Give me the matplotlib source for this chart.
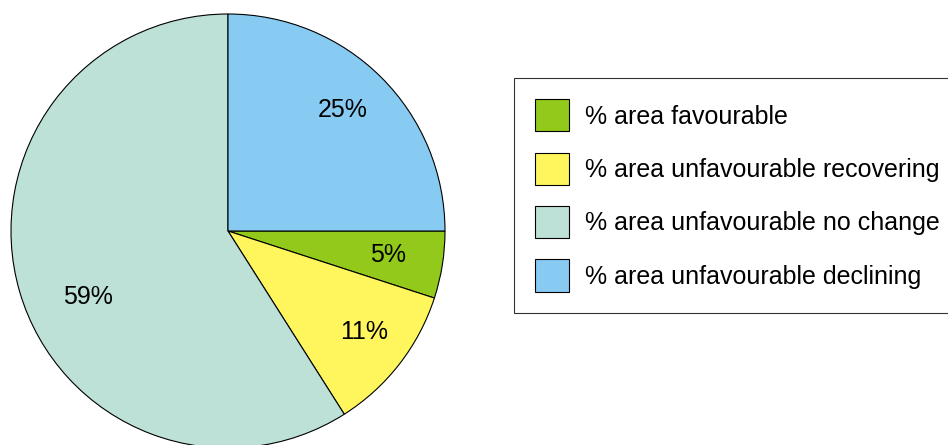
import matplotlib.pyplot as plt

plt.rcParams['font.family'] = ['Liberation Sans', 'DejaVu Sans']

labels = ['% area favourable', '% area unfavourable recovering',
          '% area unfavourable no change', '% area unfavourable declining']
values = [5, 11, 59, 25]
colors = ['#92c91a', '#fff65e', '#bde0d7', '#87cbf3']

# label centres in pixels from top-left (as in the original)
label_pos = [(388, 255), (364, 332), (88, 297), (343, 110)]

W, H = 948, 445
fig = plt.figure(figsize=(W / 100, H / 100), dpi=100)
ax = fig.add_axes([0, 0, 1, 1])

wedges, texts, autotexts = ax.pie(
    values, colors=colors, startangle=0, counterclock=False,
    center=(228, H - 231), radius=217, frame=True,
    autopct=lambda p: '%d%%' % round(p), pctdistance=0.76,
    wedgeprops=dict(edgecolor='black', linewidth=0.8),
    textprops=dict(fontsize=18, color='black'))
for t, (x, y) in zip(autotexts, label_pos):
    t.set_position((x, H - y))

ax.set_xlim(0, W)
ax.set_ylim(0, H)
ax.set_aspect('equal')
ax.axis('off')

leg = ax.legend(wedges, labels, loc='upper left',
                bbox_to_anchor=(514 / W, 1 - 78 / H), bbox_transform=fig.transFigure,
                fontsize=18, frameon=True, fancybox=False, shadow=False,
                borderaxespad=0, borderpad=0.85, labelspacing=0.85,
                handlelength=1.35, handleheight=1.6, handletextpad=0.65)
leg.get_frame().set_edgecolor('black')
leg.get_frame().set_linewidth(0.8)

fig.savefig('out.png', dpi=100)
